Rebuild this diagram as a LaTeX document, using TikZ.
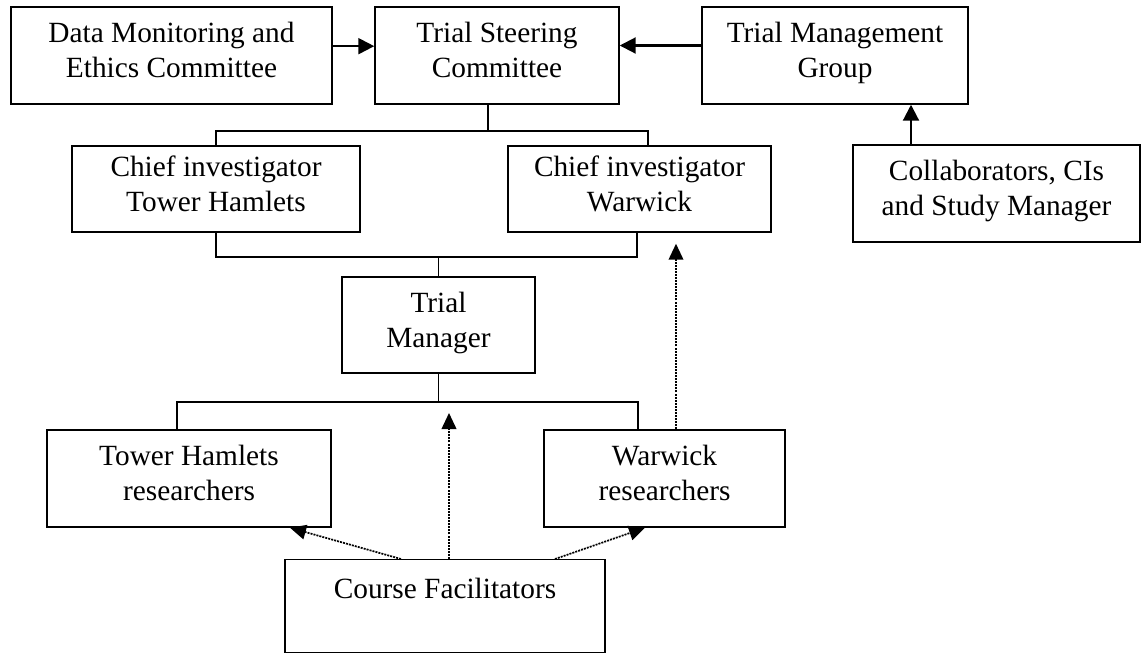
\documentclass[tikz,border=0pt]{standalone}
\usepackage{fontspec}
\setmainfont{Liberation Serif}
\usetikzlibrary{arrows.meta}
\newcommand\pxu{0.75pt}

\begin{document}
\begin{tikzpicture}[x=0.75pt,y=-0.75pt,
		box/.style={draw,line width=1.1pt,align=center,inner sep=0pt,
			execute at begin node=\strut,execute at end node=\strut,
			font=\fontsize{22}{26.25}\selectfont},
		link/.style={line width=1pt},
		arr/.style={line width=1.6pt,-{Triangle[length=12pt,width=12pt]}},
		darr/.style={line width=1.3pt,dash pattern=on 1.5pt off 0.8pt,
			-{Triangle[length=12pt,width=11pt]}}]
	\useasboundingbox (0,0) rectangle (1142,654);
	% top row
	\node[box,minimum width=321*\pxu,minimum height=97*\pxu] (dm) at (171.5,55.5) {Data Monitoring and\\Ethics Committee};
	\node[box,minimum width=244*\pxu,minimum height=97*\pxu] (tsc) at (497,55.5) {Trial Steering\\Committee};
	\node[box,minimum width=266*\pxu,minimum height=97*\pxu] (tmg) at (835,55.5) {Trial Management\\Group};
	\node[box,minimum width=287*\pxu,minimum height=97*\pxu] (col) at (996.5,193.5) {Collaborators, CIs\\and Study Manager};
	% chief investigators
	\node[box,minimum width=288*\pxu,minimum height=86*\pxu] (cith) at (216,189) {Chief investigator\\Tower Hamlets};
	\node[box,minimum width=263*\pxu,minimum height=86*\pxu] (ciw) at (639.5,189) {Chief investigator\\Warwick};
	\node[box,minimum width=193*\pxu,minimum height=96*\pxu] (tm) at (438.5,325) {Trial\\Manager};
	% researchers
	\node[box,minimum width=284*\pxu,minimum height=97*\pxu] (thr) at (189,478.5) {Tower Hamlets\\researchers};
	\node[box,minimum width=241*\pxu,minimum height=97*\pxu] (wr) at (664.5,478.5) {Warwick\\researchers};
	\node[box,anchor=north,minimum width=320*\pxu,text height=39*\pxu,text depth=54*\pxu] (cf) at (445,559) {Course Facilitators};
	% junctions
	\coordinate (j1) at (488,131);
	\coordinate (j2) at (438.5,257);
	\coordinate (j3) at (438.5,402);
	% solid arrows
	\draw[arr] ([yshift=7pt]dm.east) -- ([yshift=7pt]tsc.west);
	\draw[arr] ([yshift=7.5pt]tmg.west) -- ([yshift=7.5pt]tsc.east);
	\draw[arr] ([xshift=-85.5*\pxu]col.north) coordinate (c1) -- (c1 |- tmg.south);
	% tree lines
	\draw[link] (j1 |- tsc.south) -- (j1);
	\draw[link] (cith.north) |- (j1) -| ([xshift=8.5*\pxu]ciw.north);
	\draw[link] (cith.south) |- (j2) -| ([xshift=-2.5*\pxu]ciw.south);
	\draw[link] (j2) -- (tm.north);
	\draw[link] (tm.south) -- (j3);
	\draw[link] ([xshift=-12*\pxu]thr.north) |- (j3) -| ([xshift=-26.5*\pxu]wr.north);
	% dotted arrows
	\draw[darr,shorten >=11*\pxu] ([xshift=11.5*\pxu]wr.north) coordinate (c2) -- (c2 |- ciw.south);
	\draw[darr,shorten >=11*\pxu] ([xshift=4*\pxu]cf.north) coordinate (c3) -- (c3 |- j3);
	\draw[darr] ([xshift=-44*\pxu]cf.north) -- ([xshift=101*\pxu]thr.south);
	\draw[darr] ([xshift=110*\pxu]cf.north) -- ([xshift=-19.5*\pxu]wr.south);
\end{tikzpicture}
\end{document}
